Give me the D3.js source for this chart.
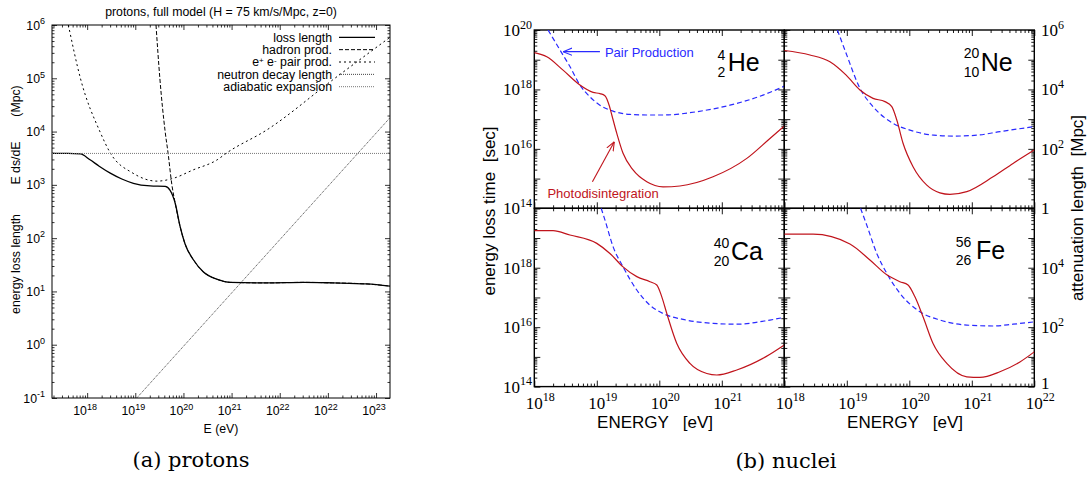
<!DOCTYPE html>
<html>
<head>
<meta charset="utf-8">
<script src="https://cdn.jsdelivr.net/npm/d3@7"></script>
<style>
body { margin: 0; background: #fff; }
text { font-family: "Liberation Sans", Arial, sans-serif; white-space: pre; }
.caption { font-family: "DejaVu Serif", "Liberation Serif", serif; }
</style>
</head>
<body>
<svg width="1091" height="481"></svg>
<script>
// ---------- (a) protons: values are log10(E) (axis position) and log10(length / Mpc)
var protonTitle = "protons, full model (H = 75 km/s/Mpc, z=0)";
var protonXTicks = [18, 19, 20, 21, 22, 23, 24];
var protonXLabels = ["18", "19", "20", "21", "22", "22", "23"];   // as printed on the original
var protonYTicks = [-1, 0, 1, 2, 3, 4, 5, 6];

var lossLogE = [17.27, 17.6, 17.86, 18.06, 18.25, 18.48, 18.72, 18.96, 19.31, 19.62, 19.72, 19.83, 19.93, 20.03, 20.21, 20.41, 20.69, 20.97, 21.73, 22.5, 23.1, 23.81, 24.29];
var lossLogL = [3.59, 3.59, 3.58, 3.47, 3.35, 3.22, 3.11, 3.03, 2.98, 2.97, 2.90, 2.65, 2.22, 1.90, 1.59, 1.37, 1.23, 1.17, 1.16, 1.17, 1.16, 1.14, 1.10];
var hadronLogE = [19.43, 19.51, 19.62, 19.68, 19.76, 19.83, 19.93, 20.03, 20.21, 20.41, 20.69, 20.97, 21.73, 22.5, 23.1, 23.81, 24.29];
var hadronLogL = [6.0, 5.0, 4.0, 3.6, 3.0, 2.65, 2.22, 1.90, 1.59, 1.37, 1.23, 1.17, 1.16, 1.17, 1.16, 1.14, 1.10];
var pairLogE = [17.61, 17.86, 18.27, 18.48, 18.95, 19.45, 19.78, 20.2, 20.7, 20.9, 21.73, 23.1, 24.29];
var pairLogL = [6.0, 5.0, 3.99, 3.60, 3.22, 3.07, 3.12, 3.28, 3.47, 3.60, 4.03, 4.97, 5.77];
var neutronLogE = [19.03, 24.29];
var neutronLogL = [-1, 4.26];
var adiabaticLogE = [17.27, 24.29];
var adiabaticLogL = [3.59, 3.59];

// ---------- (b) nuclei: log10(E / eV) and log10(t / sec)
var nucleiSym = ["He", "Ne", "Ca", "Fe"];
var nucleiA = ["4", "20", "40", "56"];
var nucleiZ = ["2", "10", "20", "26"];
var photoLogE = [
  [18, 18.2, 18.46, 18.73, 18.94, 19.05, 19.13, 19.20, 19.24, 19.32, 19.42, 19.58, 19.80, 20.06, 20.33, 20.86, 21.40, 21.77, 22],
  [18, 18.41, 18.73, 18.99, 19.21, 19.42, 19.61, 19.72, 19.80, 19.90, 20.06, 20.28, 20.49, 20.65, 20.92, 21.34, 21.66, 22],
  [18, 18.30, 18.57, 19.0, 19.21, 19.42, 19.64, 19.85, 19.96, 20.04, 20.12, 20.28, 20.49, 20.76, 20.92, 21.24, 21.7, 22],
  [18, 18.46, 19.05, 19.37, 19.64, 19.85, 19.98, 20.09, 20.22, 20.38, 20.60, 20.92, 21.13, 21.45, 21.77, 22]
];
var photoLogT = [
  [19.24, 19.10, 18.65, 18.15, 17.90, 17.86, 17.79, 17.45, 17.14, 16.52, 15.85, 15.29, 14.89, 14.72, 14.75, 15.06, 15.68, 16.35, 16.77],
  [19.31, 19.16, 18.93, 18.48, 17.98, 17.70, 17.59, 17.42, 16.97, 16.19, 15.40, 14.78, 14.52, 14.47, 14.56, 15.06, 15.51, 15.96],
  [19.25, 19.25, 19.10, 18.82, 18.48, 18.03, 17.70, 17.53, 17.42, 17.02, 16.46, 15.45, 14.78, 14.44, 14.39, 14.56, 15.0, 15.40],
  [19.13, 19.13, 18.80, 18.26, 17.76, 17.53, 17.42, 17.02, 16.35, 15.45, 14.78, 14.33, 14.31, 14.50, 14.83, 15.17]
];
var pairNLogE = [
  [18.22, 18.41, 18.57, 18.73, 18.89, 19.05, 19.26, 19.53, 19.8, 20.06, 20.6, 21.13, 21.66, 22],
  [18.85, 18.99, 19.21, 19.42, 19.74, 20.01, 20.39, 20.70, 21.08, 21.45, 22],
  [19.07, 19.13, 19.26, 19.42, 19.64, 19.85, 20.06, 20.38, 20.86, 21.24, 21.77, 22],
  [19.22, 19.31, 19.48, 19.64, 19.85, 20.17, 20.49, 20.92, 21.34, 21.66, 22]
];
var pairNLogT = [
  [20, 19.33, 18.77, 18.15, 17.75, 17.47, 17.27, 17.16, 17.14, 17.14, 17.25, 17.47, 17.81, 18.11],
  [20, 19.21, 18.04, 17.42, 16.86, 16.63, 16.46, 16.43, 16.46, 16.58, 16.75],
  [20, 19.61, 18.71, 18.03, 17.25, 16.74, 16.46, 16.26, 16.13, 16.10, 16.24, 16.33],
  [20, 19.49, 18.48, 17.81, 17.14, 16.52, 16.24, 16.07, 16.04, 16.10, 16.18]
];
var timeLabelsTop = [20, 18, 16, 14];
var timeLabelsBottom = [18, 16, 14];
var mpcLabelsTop = ["6", "4", "2", ""];
var mpcLabelsBottom = ["4", "2", ""];
var energyLabelsLeft = [18, 19, 20, 21];
var energyLabelsRight = [18, 19, 20, 21, 22];

var svg = d3.select("svg");
var p10 = function(v) { return Math.pow(10, v); };
var serifFont = "Liberation Serif, Times New Roman, serif";

function minorValues(lo, hi) {
  var out = [];
  for (var n = Math.floor(lo); n <= Math.ceil(hi); n++)
    for (var k = 2; k <= 9; k++) {
      var v = k * Math.pow(10, n);
      if (Math.log10(v) > lo + 1e-6 && Math.log10(v) < hi - 1e-6) out.push(v);
    }
  return out;
}
function majorValues(lo, hi) {
  var out = [];
  for (var n = Math.ceil(lo - 1e-6); n <= hi + 1e-6; n++) out.push(Math.pow(10, n));
  return out;
}

function ticks(g, scale, orient, pos, values, len, sw) {
  var mk = { bottom: d3.axisBottom, top: d3.axisTop, left: d3.axisLeft, right: d3.axisRight }[orient];
  var a = g.append("g")
    .attr("transform", (orient == "bottom" || orient == "top") ? "translate(0," + pos + ")" : "translate(" + pos + ",0)")
    .call(mk(scale).tickValues(values).tickSize(-len).tickSizeOuter(0).tickFormat(""));
  a.select(".domain").remove();
  a.selectAll("line").attr("stroke", "#000").attr("stroke-width", sw);
}

function frame(g, x, y, lx, big, small, sw) {
  var x0 = x.range()[0], x1 = x.range()[1], y0 = y.range()[1], y1 = y.range()[0];
  var dx = x.domain().map(Math.log10), dy = y.domain().map(Math.log10);
  ["bottom", "top"].forEach(function(o) {
    var p = o == "bottom" ? y1 : y0;
    ticks(g, x, o, p, majorValues(dx[0], dx[1]), big, sw);
    ticks(g, x, o, p, minorValues(dx[0], dx[1]), small, sw);
  });
  ["left", "right"].forEach(function(o) {
    var p = o == "left" ? x0 : x1;
    ticks(g, y, o, p, majorValues(dy[0], dy[1]), big, sw);
    ticks(g, y, o, p, minorValues(dy[0], dy[1]), small, sw);
  });
  g.append("rect").attr("x", x0).attr("y", y0).attr("width", x1 - x0).attr("height", y1 - y0)
    .attr("fill", "none").attr("stroke", "#000").attr("stroke-width", lx);
}

function powText(g, x, y, anchor, exp, size, supSize, font) {
  var t = g.append("text").attr("x", x).attr("y", y).attr("text-anchor", anchor)
    .attr("font-size", size).attr("fill", "#000");
  if (font) t.style("font-family", font);
  if (exp === "") { t.text("1"); return t; }
  t.append("tspan").text("10");
  t.append("tspan").attr("dy", -size * 0.42).attr("font-size", supSize).text(exp);
  return t;
}

function pts(ex, ey) { return ex.map(function(e, i) { return [e, ey[i]]; }); }

// ================= (a) protons =================
var ga = svg.append("g");
var xa = d3.scaleLog().domain([p10(17.27), p10(24.29)]).range([52, 390]);
var ya = d3.scaleLog().domain([0.1, 1e6]).range([398, 25]);
var fsA = 12.3, supA = 9;

svg.append("clipPath").attr("id", "clipA").append("rect")
  .attr("x", 52).attr("y", 25).attr("width", 338).attr("height", 373);

frame(ga, xa, ya, 1, 5, 2.5, 0.8);

var lineA = d3.line().x(function(d) { return xa(p10(d[0])); }).y(function(d) { return ya(p10(d[1])); })
  .curve(d3.curveMonotoneX);
var protonSeries = [
  { name: "loss length", data: pts(lossLogE, lossLogL), dash: null, w: 1.3, c: "#000" },
  { name: "hadron prod.", data: pts(hadronLogE, hadronLogL), dash: "4,2", w: 1, c: "#000" },
  { name: "pair", data: pts(pairLogE, pairLogL), dash: "2,3", w: 1, c: "#000" },
  { name: "neutron decay length", data: pts(neutronLogE, neutronLogL), dash: "1,1", w: 0.8, c: "#111" },
  { name: "adiabatic expansion", data: pts(adiabaticLogE, adiabaticLogL), dash: "1,1", w: 1, c: "#777" }
];
var curvesA = ga.append("g").attr("clip-path", "url(#clipA)");
protonSeries.forEach(function(s) {
  curvesA.append("path").attr("d", lineA(s.data)).attr("fill", "none")
    .attr("stroke", s.c).attr("stroke-width", s.w).attr("stroke-dasharray", s.dash);
});

// legend
protonSeries.forEach(function(s, i) {
  var y = 37.3 + i * 12.35;
  var t = ga.append("text").attr("x", 332).attr("y", y + 4.4).attr("text-anchor", "end").attr("font-size", fsA);
  if (s.name == "pair") {
    t.append("tspan").text("e");
    t.append("tspan").attr("dy", -3.5).attr("font-size", 8).text("+");
    t.append("tspan").attr("dy", 3.5).text(" e");
    t.append("tspan").attr("dy", -3.5).attr("font-size", 8).text("-");
    t.append("tspan").attr("dy", 3.5).text(" pair prod.");
  } else t.text(s.name);
  ga.append("line").attr("x1", 339).attr("x2", 375).attr("y1", y).attr("y2", y)
    .attr("stroke", s.c).attr("stroke-width", s.w).attr("stroke-dasharray", s.dash);
});

protonXTicks.forEach(function(v, i) {
  powText(ga, xa(p10(v)) - 2, 415, "middle", protonXLabels[i], fsA, supA);
});
protonYTicks.forEach(function(v) {
  powText(ga, 45, ya(p10(v)) + 4.5, "end", String(v), fsA, supA);
});
ga.append("text").attr("x", 221).attr("y", 16).attr("text-anchor", "middle").attr("font-size", fsA).text(protonTitle);
ga.append("text").attr("x", 221).attr("y", 433).attr("text-anchor", "middle").attr("font-size", fsA).text("E (eV)");
[["energy loss length", 264], ["E ds/dE", 163], ["(Mpc)", 101]].forEach(function(p) {
  ga.append("text").attr("transform", "translate(19.5," + p[1] + ") rotate(-90)")
    .attr("text-anchor", "middle").attr("font-size", fsA).text(p[0]);
});
ga.append("text").attr("class", "caption").attr("x", 191).attr("y", 467).attr("text-anchor", "middle")
  .attr("font-size", 21).text("(a) protons");

// ================= (b) nuclei =================
var gb = svg.append("g");
var panelX = [534.3, 784.3], panelY = [30, 208.3], pw = 250, ph = 178.3;
var red = "#c0141c", blue = "#2a2aff";

var defs = svg.append("defs");
[["arrBlue", blue], ["arrRed", red]].forEach(function(m) {
  defs.append("marker").attr("id", m[0]).attr("viewBox", "0 0 10 10").attr("refX", 10).attr("refY", 5)
    .attr("markerWidth", 9).attr("markerHeight", 9).attr("markerUnits", "userSpaceOnUse").attr("orient", "auto")
    .append("path").attr("d", "M0,1 L10,5 L0,9").attr("fill", "none").attr("stroke", m[1]).attr("stroke-width", 1.2);
});

var labelPos = [
  { ax: 191, sx: 193.4, base: 40.7, supY: 25, subY: 42 },
  { ax: 195, sx: 196.4, base: 40.7, supY: 23, subY: 42 },
  { ax: 195, sx: 196.7, base: 51.7, supY: 35, subY: 52.4 },
  { ax: 187, sx: 191.7, base: 50.7, supY: 33.4, subY: 51.7 }
];

var scales = [];
nucleiSym.forEach(function(sym, i) {
  var px = panelX[i % 2], py = panelY[Math.floor(i / 2)];
  var x = d3.scaleLog().domain([1e18, 1e22]).range([px, px + pw]);
  var y = d3.scaleLog().domain([1e14, 1e20]).range([py + ph, py]);
  scales.push({ x: x, y: y });
  var g = gb.append("g");
  svg.append("clipPath").attr("id", "clipN" + i).append("rect")
    .attr("x", px).attr("y", py).attr("width", pw).attr("height", ph);
  frame(g, x, y, 1.4, 6, 3, 0.9);
  var line = d3.line().x(function(d) { return x(p10(d[0])); }).y(function(d) { return y(p10(d[1])); })
    .curve(d3.curveMonotoneX);
  var c = g.append("g").attr("clip-path", "url(#clipN" + i + ")");
  c.append("path").attr("d", line(pts(pairNLogE[i], pairNLogT[i]))).attr("fill", "none")
    .attr("stroke", blue).attr("stroke-width", 1.2).attr("stroke-dasharray", "5,3");
  c.append("path").attr("d", line(pts(photoLogE[i], photoLogT[i]))).attr("fill", "none")
    .attr("stroke", red).attr("stroke-width", 1.2);

  var lp = labelPos[i];
  g.append("text").attr("x", px + lp.ax).attr("y", py + lp.supY + 5).attr("text-anchor", "end")
    .attr("font-size", 14).text(nucleiA[i]);
  g.append("text").attr("x", px + lp.ax).attr("y", py + lp.subY + 5).attr("text-anchor", "end")
    .attr("font-size", 14).text(nucleiZ[i]);
  g.append("text").attr("x", px + lp.sx).attr("y", py + lp.base).attr("font-size", 25).text(sym);
});

// tick labels
var lblSize = 17, supSize = 12;
timeLabelsTop.forEach(function(v) { powText(gb, 532, scales[0].y(p10(v)) + 6, "end", String(v), lblSize, supSize, serifFont); });
timeLabelsBottom.forEach(function(v) { powText(gb, 532, scales[2].y(p10(v)) + 6, "end", String(v), lblSize, supSize, serifFont); });
mpcLabelsTop.forEach(function(v, i) { powText(gb, 1041, scales[1].y(p10(20 - 2 * i)) + 6, "start", v, lblSize, supSize, serifFont); });
mpcLabelsBottom.forEach(function(v, i) {
  powText(gb, 1041, scales[3].y(p10(18 - 2 * i)) + (v === "" ? 2 : 6), "start", v, lblSize, supSize, serifFont);
});
energyLabelsLeft.forEach(function(v) { powText(gb, scales[2].x(p10(v)) - 8.5, 408.5, "start", String(v), lblSize, supSize, serifFont); });
energyLabelsRight.forEach(function(v) { powText(gb, scales[3].x(p10(v)) - 8.5, 408.5, "start", String(v), lblSize, supSize, serifFont); });

// axis titles
gb.append("text").attr("x", 655).attr("y", 428).attr("text-anchor", "middle").attr("font-size", 17).text("ENERGY   [eV]");
gb.append("text").attr("x", 905).attr("y", 428).attr("text-anchor", "middle").attr("font-size", 17).text("ENERGY   [eV]");
gb.append("text").attr("transform", "translate(495,211) rotate(-90)").attr("text-anchor", "middle")
  .attr("font-size", 17).text("energy loss time  [sec]");
gb.append("text").attr("transform", "translate(1083,208) rotate(-90)").attr("text-anchor", "middle")
  .attr("font-size", 17).text("attenuation length  [Mpc]");

// annotations (He panel)
var sHe = scales[0];
gb.append("line").attr("x1", sHe.x(p10(19.05))).attr("y1", sHe.y(p10(19.27)))
  .attr("x2", sHe.x(p10(18.46))).attr("y2", sHe.y(p10(19.27)))
  .attr("stroke", blue).attr("stroke-width", 1.2).attr("marker-end", "url(#arrBlue)");
gb.append("text").attr("x", sHe.x(p10(19.13))).attr("y", sHe.y(p10(19.27)) + 5).attr("font-size", 13)
  .attr("fill", blue).text("Pair Production");
gb.append("line").attr("x1", sHe.x(p10(18.93))).attr("y1", sHe.y(p10(14.89)))
  .attr("x2", sHe.x(p10(19.28))).attr("y2", sHe.y(p10(16.24)))
  .attr("stroke", red).attr("stroke-width", 1.1).attr("marker-end", "url(#arrRed)");
gb.append("text").attr("x", sHe.x(p10(18.21))).attr("y", sHe.y(p10(14.51)) + 5).attr("font-size", 13)
  .attr("fill", red).text("Photodisintegration");

gb.append("text").attr("class", "caption").attr("x", 786).attr("y", 468).attr("text-anchor", "middle")
  .attr("font-size", 21).text("(b) nuclei");
</script>
</body>
</html>
